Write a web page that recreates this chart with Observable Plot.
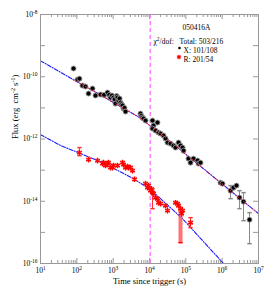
<!DOCTYPE html>
<html><head><meta charset="utf-8">
<script src="https://cdn.jsdelivr.net/npm/d3@7"></script>
<script src="https://cdn.jsdelivr.net/npm/@observablehq/plot@0.6"></script>
<style>body{margin:0;background:#fff} svg{display:block}</style>
</head><body><div id="chart"></div><script>
// X-ray (black) points
const xrayTime = [81,104,118,143,173,210,270,327,449,560,699,780,845,930,1020,1100,1160,1250,1316,1402,1500,1592,1700,1807,1927,2050,2188,
  5653,6000,6422,6842,7770,12100,12890,12100,14630,16600,17700,20100,24300,27600,31300,37900,45800,52000,62900,71400,81100,86400,
  118500,134500,162600,209500,223300,253500,900000,1.02e6,1.7e6,2.05e6,2.48e6,3.0e6,3.87e6,5.66e6];
const xrayFlux = [1.84e-10,8.1e-11,8.7e-11,5.2e-11,4.84e-11,2.88e-11,4.18e-11,2.49e-11,2.68e-11,2.6e-11,3.1e-11,2.6e-11,2.14e-11,2.5e-11,2.14e-11,1.9e-11,1.37e-11,2.4e-11,2.14e-11,1.72e-11,2.0e-11,1.48e-11,1.3e-11,1.19e-11,9.5e-12,1.0e-11,7.6e-12,
  6.56e-12,5.5e-12,4.88e-12,4.53e-12,3.91e-12,3.91e-12,2.70e-12,2.16e-12,1.86e-12,3.37e-12,1.61e-12,1.49e-12,1.29e-12,1.03e-12,7.66e-13,7.11e-13,6.13e-13,5.29e-13,7.66e-13,6.13e-13,5.29e-13,4.23e-13,
  2.34e-13,1.74e-13,2.34e-13,2.02e-13,1.62e-13,1.74e-13,3.96e-14,3.68e-14,2.19e-14,2.74e-14,3.18e-14,1.31e-14,9.7e-15,2.56e-15];
// X-ray error bars (visible ones)
const xrayBarTime = [1.7e6,3.0e6,3.87e6,5.66e6];
const xrayBarLo = [1.21e-14,5.78e-15,2.38e-15,4.34e-16];
const xrayBarHi = [3.18e-14,2.19e-14,1.89e-14,4.3e-15];
// R-band (red) points
const rTime = [118,210,370,509,542,615,699,745,845,960,1020,1316,1807,1927,2188,2484,2645,3000,3408,3866,
  7770,8810,9390,10660,11300,12100,12890,14630,16600,17700,20100,27600,31300,52000,59000,62900,71400,81100,76000,134500];
const rFlux = [3.66e-13,2.18e-13,2.02e-13,1.62e-13,1.74e-13,1.40e-13,1.62e-13,1.74e-13,1.20e-13,1.20e-13,1.40e-13,1.40e-13,1.74e-13,1.50e-13,1.20e-13,1.30e-13,1.20e-13,1.20e-13,9.64e-14,5.1e-14,
  3.68e-14,2.74e-14,3.18e-14,2.19e-14,2.5e-14,1.89e-14,1.76e-14,1.31e-14,1.21e-14,9.0e-15,8.4e-15,7.2e-15,4.99e-15,9.0e-15,8.4e-15,7.2e-15,5.78e-15,4.99e-15,3.99e-15,2.05e-15];
const rBarTime = [118,12100,134500];
const rBarLo = [2.92e-13,5.78e-15,1.42e-15];
const rBarHi = [5.29e-13,2.54e-14,2.97e-15];
const rFatBarTime = [71400];
const rFatBarLo = [4.67e-16];
const rFatBarHi = [5.0e-15];
// model curves
const modelXTime = [10,449,4977,20100,1e7];
const modelXFlux = [3.24e-10,2.58e-11,5.14e-12,1.49e-12,3.99e-15];
const fitXTime = [80,449,4977,20100,1e7];
const fitXFlux = [8.1e-11,2.58e-11,5.14e-12,1.49e-12,3.99e-15];
const modelRTime = [10,35.5,449,3630,10670,81100,1.09e6];
const modelRFlux = [1.38e-12,6.2e-13,1.88e-13,5.33e-14,2.36e-14,2.75e-15,1e-16];
const breakTime = [10500];
// axis ticks
const xLabelTicks = [1e1,1e2,1e3,1e4,1e5,1e6,1e7];
const yLabelTicks = [1e-16,1e-14,1e-12,1e-10,1e-8];
const yDecadeTicks = [1e-16,1e-15,1e-14,1e-13,1e-12,1e-11,1e-10,1e-9,1e-8];
// texts
const xLabel = "Time since trigger (s)";
const yLabel = "Flux (erg  cm^{-2} s^{-1})";
const grbName = "050416A";
const chiLabel = "χ^{2}/dof:";
const totalLabel = "Total: 503/216";
const xLegend = "X: 101/108";
const rLegend = "R: 201/54";

const xray = xrayTime.map((t,i)=>({t, f: xrayFlux[i]}));
const xrayBars = xrayBarTime.map((t,i)=>({t, lo: xrayBarLo[i], hi: xrayBarHi[i]}));
const rband = rTime.map((t,i)=>({t, f: rFlux[i]}));
const rBars = rBarTime.map((t,i)=>({t, lo: rBarLo[i], hi: rBarHi[i]}));
const rFat = rFatBarTime.map((t,i)=>({t, lo: rFatBarLo[i], hi: rFatBarHi[i]}));
const mX = modelXTime.map((t,i)=>({t, f: modelXFlux[i]}));
const fX = fitXTime.map((t,i)=>({t, f: fitXFlux[i]}));
const mR = modelRTime.map((t,i)=>({t, f: modelRFlux[i]}));

const allX = d3.scaleLog().domain([10,1e7]).ticks();
const minorX = allX.filter(v => !xLabelTicks.includes(v));

const cap = {draw(ctx, size){ const r = 2.2; ctx.moveTo(-r,0); ctx.lineTo(r,0); }};
const fmt = d => "10^{" + Math.round(Math.log10(d)) + "}";
const W = 218, H = 249;
const frameStroke = "#999";

const chart = Plot.plot({
  width: 270, height: 291,
  marginLeft: 40, marginRight: 12, marginTop: 14, marginBottom: 28,
  style: {fontFamily: "'Liberation Serif', 'Times New Roman', serif", fontSize: "8px", color: "#000", background: "#fff"},
  x: {type: "log", domain: [10, 1e7]},
  y: {type: "log", domain: [1e-16, 1e-8]},
  marks: [
    // ticks
    Plot.ruleX(xLabelTicks, {insetTop: H - 5, stroke: frameStroke}),
    Plot.ruleX(minorX, {insetTop: H - 3, stroke: frameStroke}),
    Plot.ruleX(xLabelTicks, {insetBottom: H - 5, stroke: frameStroke}),
    Plot.ruleX(minorX, {insetBottom: H - 3, stroke: frameStroke}),
    Plot.ruleY(yDecadeTicks, {insetRight: W - 5, stroke: frameStroke}),
    Plot.ruleY(yDecadeTicks, {insetLeft: W - 5, stroke: frameStroke}),
    Plot.axisX({ticks: xLabelTicks, tickSize: 0, tickPadding: 4, tickFormat: fmt, label: null, fontSize: 7.5}),
    Plot.axisY({ticks: yLabelTicks, tickSize: 0, tickPadding: 3, tickFormat: fmt, label: null, fontSize: 7.5}),
    // break line
    Plot.ruleX(breakTime, {stroke: "#ff80ff", strokeWidth: 1.5, strokeDasharray: "4,3"}),
    // models
    Plot.line(mX, {x: "t", y: "f", stroke: "#1a1aff", strokeWidth: 1.1, strokeDasharray: "4,1.5,1,1.5"}),
    Plot.line(mR, {x: "t", y: "f", stroke: "#1a1aff", strokeWidth: 1.1, strokeDasharray: "4,1.5,1,1.5"}),
    // red data
    Plot.ruleX(rFat, {x: "t", y1: "lo", y2: "hi", stroke: "#ff5050", strokeWidth: 4, strokeOpacity: 0.8}),
    Plot.dot(rFat, {x: "t", y: "lo", symbol: cap, r: 3, stroke: "#ff0000"}),
    Plot.dot(rFat, {x: "t", y: "hi", symbol: cap, r: 3, stroke: "#ff0000"}),
    Plot.ruleX(rBars, {x: "t", y1: "lo", y2: "hi", stroke: "#ff3030"}),
    Plot.dot(rBars, {x: "t", y: "lo", symbol: cap, r: 3, stroke: "#ff3030"}),
    Plot.dot(rBars, {x: "t", y: "hi", symbol: cap, r: 3, stroke: "#ff3030"}),
    Plot.dot(rband, {x: "t", y: "f", symbol: "square", r: 2.8, fill: "#ff9090", fillOpacity: 0.6}),
    Plot.dot(rband, {x: "t", y: "f", symbol: "asterisk", r: 2.6, stroke: "#ff0000", strokeWidth: 1.3}),
    // black data
    Plot.ruleX(xrayBars, {x: "t", y1: "lo", y2: "hi", stroke: "#888"}),
    Plot.dot(xrayBars, {x: "t", y: "lo", symbol: cap, r: 3, stroke: "#888"}),
    Plot.dot(xrayBars, {x: "t", y: "hi", symbol: cap, r: 3, stroke: "#888"}),
    Plot.dot(xray, {x: "t", y: "f", r: 2.5, fill: "#000", stroke: "#999", strokeWidth: 0.9}),
    // fit overlay
    Plot.line(fX, {x: "t", y: "f", stroke: "#ff2040", strokeWidth: 1, strokeDasharray: "1,2.5"}),
    Plot.frame({stroke: frameStroke}),
    // axis labels
    Plot.text([xLabel], {frameAnchor: "bottom", dy: 20, fontSize: 8.5, fill: "#000"}),
    Plot.text([yLabel], {frameAnchor: "left", dx: -25, rotate: -90, fontSize: 8.5, fill: "#000"}),
    // legend
    Plot.text([grbName], {frameAnchor: "top-left", dx: 156, dy: 10.5, textAnchor: "middle", fontSize: 7.5, fill: "#000"}),
    Plot.text([chiLabel], {frameAnchor: "top-left", dx: 113, dy: 24, textAnchor: "start", fontSize: 7.5, fill: "#000"}),
    Plot.text([totalLabel], {frameAnchor: "top-left", dx: 139, dy: 24, textAnchor: "start", fontSize: 7.5, fill: "#000"}),
    Plot.text([xLegend], {frameAnchor: "top-left", dx: 143, dy: 33.5, textAnchor: "start", fontSize: 7.5, fill: "#000"}),
    Plot.text([rLegend], {frameAnchor: "top-left", dx: 143, dy: 42.5, textAnchor: "start", fontSize: 7.5, fill: "#000"}),
    Plot.dot([0], {frameAnchor: "top-left", dx: 139, dy: 33.5, r: 1.3, fill: "#000"}),
    Plot.dot([0], {frameAnchor: "top-left", dx: 138.5, dy: 42.5, symbol: "asterisk", r: 2.2, stroke: "#ff0000", strokeWidth: 1.2})
  ]
});

// convert ^{...} markers into superscript tspans
const NS = "http://www.w3.org/2000/svg";
chart.querySelectorAll("text").forEach(t => {
  const s = t.textContent;
  if (!s.includes("^{")) return;
  while (t.firstChild) t.removeChild(t.firstChild);
  const re = /\^\{([^}]*)\}/g;
  let last = 0, m, raised = false;
  const add = (txt, dy, small) => {
    const ts = document.createElementNS(NS, "tspan");
    ts.textContent = txt;
    if (dy) ts.setAttribute("dy", dy);
    if (small) ts.setAttribute("font-size", "72%");
    t.appendChild(ts);
  };
  while ((m = re.exec(s))) {
    if (m.index > last) { add(s.slice(last, m.index), raised ? "3" : null, false); raised = false; }
    add(m[1], raised ? null : "-3", true); raised = true;
    last = re.lastIndex;
  }
  if (last < s.length) add(s.slice(last), raised ? "3" : null, false);
});
document.getElementById("chart").appendChild(chart);
</script></body></html>
